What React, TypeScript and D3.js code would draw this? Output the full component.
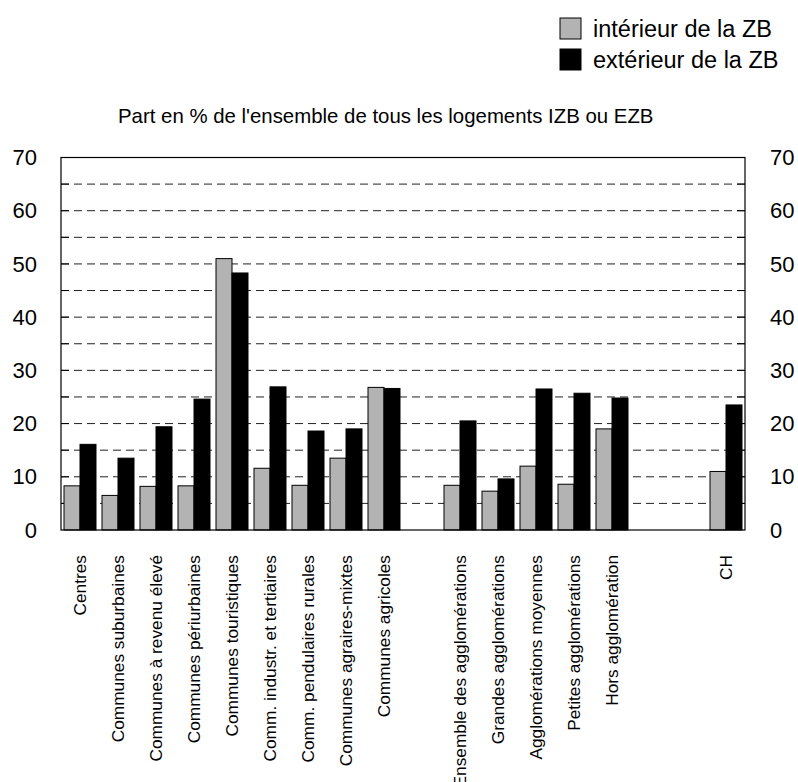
import React from "react";
import * as d3 from "d3";

const categories = [
  "Centres",
  "Communes suburbaines",
  "Communes à revenu élevé",
  "Communes périurbaines",
  "Communes touristiques",
  "Comm. industr. et tertiaires",
  "Comm. pendulaires rurales",
  "Communes agraires-mixtes",
  "Communes agricoles",
  "",
  "Ensemble des agglomérations",
  "Grandes agglomérations",
  "Agglomérations moyennes",
  "Petites agglomérations",
  "Hors agglomération",
  "",
  "",
  "CH",
];

// null = empty slot between groups
const interieur = [8.3, 6.5, 8.2, 8.3, 51.0, 11.6, 8.4, 13.5, 26.8, null, 8.4, 7.3, 12.0, 8.6, 19.0, null, null, 11.0];
const exterieur = [16.1, 13.5, 19.4, 24.6, 48.3, 26.9, 18.6, 19.0, 26.6, null, 20.5, 9.6, 26.5, 25.7, 24.8, null, null, 23.5];

const seriesNames = ["intérieur de la ZB", "extérieur de la ZB"];
const seriesColors = ["#b3b3b3", "#000000"];
const yTicks = [0, 10, 20, 30, 40, 50, 60, 70];
const gridTicks = [5, 10, 15, 20, 25, 30, 35, 40, 45, 50, 55, 60, 65];

const W = 798;
const H = 782;
const left = 61;
const right = 745;
const top = 157.5;
const bottom = 530;
const font = "'Liberation Sans', Arial, sans-serif";

export default function App() {
  const x0 = d3
    .scaleBand<number>()
    .domain(categories.map((_, i) => i))
    .range([left, right])
    .padding(0);

  const x1 = d3
    .scaleBand<number>()
    .domain([0, 1])
    .range([0, x0.bandwidth()])
    .paddingInner(0)
    .paddingOuter(0.1875);

  const y = d3.scaleLinear().domain([0, 70]).range([bottom, top]);

  const series = [interieur, exterieur];

  return (
    <svg width={W} height={H} style={{ position: "absolute", left: 0, top: 0 }} fontFamily={font}>
      <rect width={W} height={H} fill="#fff" />

      {/* legend */}
      {seriesNames.map((name, i) => (
        <g key={name} transform={`translate(560, ${18 + i * 31})`}>
          <rect x={0} y={0} width={21} height={21} fill={seriesColors[i]} stroke="#000" strokeWidth={1} />
          <text x={33} y={19} fontSize={23.5} fill="#000">
            {name}
          </text>
        </g>
      ))}

      {/* title */}
      <text x={118} y={123} fontSize={20.4} fill="#000">
        Part en % de l'ensemble de tous les logements IZB ou EZB
      </text>

      {/* grid */}
      {gridTicks.map((t) => (
        <g key={t}>
          <line x1={left} x2={right} y1={y(t)} y2={y(t)} stroke="#222" strokeWidth={1} strokeDasharray="8,5" />
          <line x1={left} x2={left + 8} y1={y(t)} y2={y(t)} stroke="#000" strokeWidth={1} />
          <line x1={right - 8} x2={right} y1={y(t)} y2={y(t)} stroke="#000" strokeWidth={1} />
        </g>
      ))}

      {/* bars */}
      {categories.map((_, i) =>
        series.map((vals, s) => {
          const v = vals[i];
          if (v == null) return null;
          return (
            <rect
              key={`${i}-${s}`}
              x={(x0(i) ?? 0) + (x1(s) ?? 0)}
              y={y(v)}
              width={x1.bandwidth()}
              height={y(0) - y(v)}
              fill={seriesColors[s]}
              stroke="#000"
              strokeWidth={1}
            />
          );
        })
      )}

      {/* frame */}
      <rect x={left} y={top} width={right - left} height={bottom - top} fill="none" stroke="#000" strokeWidth={1.2} />

      {/* y labels both sides */}
      {yTicks.map((t) => (
        <g key={t}>
          <text x={37} y={y(t)} dy="0.35em" textAnchor="end" fontSize={22} fill="#000">
            {t}
          </text>
          <text x={770} y={y(t)} dy="0.35em" textAnchor="start" fontSize={22} fill="#000">
            {t}
          </text>
        </g>
      ))}

      {/* category labels */}
      {categories.map((c, i) =>
        c ? (
          <text
            key={i}
            transform={`translate(${(x0(i) ?? 0) + x0.bandwidth() / 2}, 555) rotate(-90)`}
            textAnchor="end"
            dy="0.35em"
            fontSize={17.3}
            fill="#000"
          >
            {c}
          </text>
        ) : null
      )}
    </svg>
  );
}
